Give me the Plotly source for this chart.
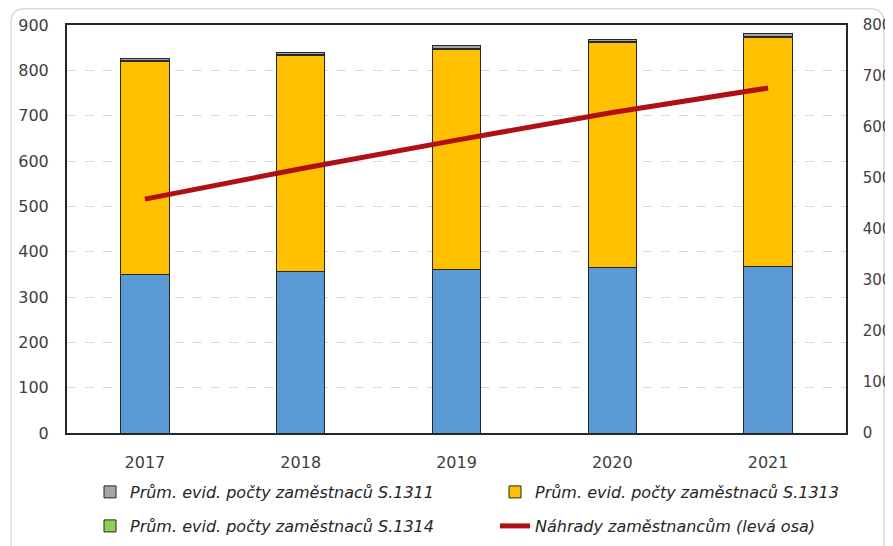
import plotly.graph_objects as go

years = ["2017", "2018", "2019", "2020", "2021"]
base_blue = [311, 316, 321, 325, 327]
s1313 = [418, 425, 431, 440, 448]
s1314 = [2, 2, 2, 2, 2]
s1311 = [3, 4, 5, 4, 6]
nahrady = [516, 583, 646, 707, 761]

left_ticks = list(range(0, 901, 100))
right_ticks = list(range(0, 801, 100))

# the page body has an 8px margin, so the figure is 8px smaller than the window
W, H = 885, 538
L, R, T, B = 59, 47, 17, 113
pw, ph = W - L - R, H - T - B


def px(x):
    return (x - L) / pw


def py(y):
    return (H - B - y) / ph


fig = go.Figure()
bar_line = dict(color="#262626", width=1)
fig.add_trace(go.Bar(x=years, y=base_blue, marker=dict(color="#5B9BD5", line=bar_line),
                     showlegend=False, name="", yaxis="y"))
fig.add_trace(go.Bar(x=years, y=s1313, marker=dict(color="#FFC000", line=bar_line),
                     name="Prům. evid. počty zaměstnaců S.1313",
                     legend="legend2", yaxis="y"))
fig.add_trace(go.Bar(x=years, y=s1314, marker=dict(color="#92D050", line=bar_line),
                     name="Prům. evid. počty zaměstnaců S.1314",
                     legend="legend3", yaxis="y"))
fig.add_trace(go.Bar(x=years, y=s1311, marker=dict(color="#A5A5A5", line=bar_line),
                     name="Prům. evid. počty zaměstnaců S.1311",
                     legend="legend", yaxis="y"))
fig.add_trace(go.Scatter(x=years, y=nahrady, mode="lines",
                         line=dict(color="#B00F14", width=5),
                         name="Náhrady zaměstnancům (levá osa)",
                         legend="legend4", yaxis="y2"))

tickfont = dict(family="DejaVu Sans", size=16, color="#404040")
rtickfont = dict(family="DejaVu Sans", size=15, color="#404040")
legfont = dict(family="DejaVu Sans", size=16, color="#262626", style="italic")


def leg(x, y):
    return dict(x=px(x), y=py(y), xanchor="left", yanchor="middle",
                font=legfont, itemwidth=30, bgcolor="rgba(0,0,0,0)")


col1, col2 = 82, 487
row1, row2 = 484, 518

r = 14
x0, x1, y0, y1 = 3, 876, 0.75, 560
path = (f"M {px(x0)},{py(y0 + r)} Q {px(x0)},{py(y0)} {px(x0 + r)},{py(y0)} "
        f"L {px(x1 - r)},{py(y0)} Q {px(x1)},{py(y0)} {px(x1)},{py(y0 + r)} "
        f"L {px(x1)},{py(y1)} L {px(x0)},{py(y1)} Z")

fig.update_layout(
    width=W, height=H,
    margin=dict(l=L, r=R, t=T, b=B, autoexpand=False),
    paper_bgcolor="white", plot_bgcolor="white",
    barmode="stack", bargap=0.69,
    xaxis=dict(showline=True, linecolor="#262626", linewidth=1.5, mirror=True,
               ticks="", tickfont=tickfont, ticklabelstandoff=14, automargin=False),
    yaxis=dict(side="right", range=[0, 800], tickvals=right_ticks, showgrid=False,
               showline=True, linecolor="#262626", linewidth=1.5, mirror=True,
               ticks="outside", ticklen=12, tickcolor="rgba(0,0,0,0)",
               tickfont=rtickfont, zeroline=False, automargin=False),
    yaxis2=dict(side="left", overlaying="y", range=[0, 900], tickvals=left_ticks,
                showgrid=True, gridcolor="#D9D9D9", griddash="dash", gridwidth=1,
                ticks="outside", ticklen=14, tickcolor="rgba(0,0,0,0)",
                tickfont=tickfont, zeroline=False, showline=False, automargin=False),
    legend=leg(col1, row1),
    legend2=leg(col2, row1),
    legend3=leg(col1, row2),
    legend4=leg(col2, row2),
    shapes=[dict(type="path", xref="paper", yref="paper", path=path,
                 line=dict(color="#D9D9D9", width=1.5), layer="below")],
)

fig.write_html("out.html")
